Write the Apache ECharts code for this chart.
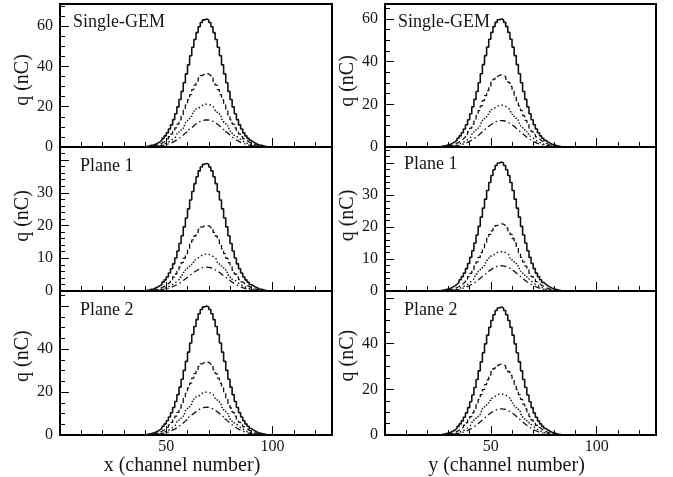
<!DOCTYPE html>
<html lang="en">
<head>
<meta charset="UTF-8">
<title>q per channel</title>
<script src="https://cdn.jsdelivr.net/npm/echarts@6/dist/echarts.min.js"></script>
<style>html,body{margin:0;padding:0;background:#fff;}</style>
</head>
<body>
<div id="main" style="width:673px;height:477px;"></div>
<script type="text/javascript">
// first channel of the stored bins (x strips on the left, y strips on the right)
var xStart = 40;
var yStart = 26;

// x strips, Single-GEM
var xGemSolid = [0.3,0.5,0.8,1.0,1.4,1.9,2.5,3.3,4.3,5.5,7.0,8.9,11.0,13.6,16.5,19.9,23.6,27.6,31.9,36.3,40.8,45.3,49.5,53.4,56.8,59.7,61.8,63.1,63.5,63.1,61.8,59.7,56.8,53.4,49.5,45.3,40.8,36.3,31.9,27.6,23.6,19.9,16.5,13.6,11.0,8.9,7.0,5.5,4.3,3.3,2.5,1.9,1.4,1.0,0.8,0.5,0.3];
var xGemDash = [0.2,0.3,0.4,0.6,0.8,1.1,1.5,1.9,2.5,3.2,4.1,5.1,6.4,7.8,9.5,11.4,13.5,15.8,18.3,20.9,23.5,26.0,28.5,30.7,32.7,34.3,35.5,36.2,36.5,36.2,35.5,34.3,32.7,30.7,28.5,26.0,23.5,20.9,18.3,15.8,13.5,11.4,9.5,7.8,6.4,5.1,4.1,3.2,2.5,1.9,1.5,1.1,0.8,0.6,0.4,0.3,0.2];
var xGemDot = [0.1,0.2,0.3,0.3,0.5,0.6,0.9,1.1,1.4,1.9,2.4,3.0,3.7,4.6,5.5,6.7,7.9,9.2,10.7,12.2,13.7,15.2,16.6,17.9,19.1,20.0,20.7,21.2,21.3,21.2,20.7,20.0,19.1,17.9,16.6,15.2,13.7,12.2,10.7,9.2,7.9,6.7,5.5,4.6,3.7,3.0,2.4,1.9,1.4,1.1,0.9,0.6,0.5,0.3,0.3,0.2,0.1];
var xGemDashDot = [0.1,0.1,0.2,0.2,0.3,0.4,0.5,0.7,0.9,1.2,1.5,1.9,2.3,2.9,3.5,4.2,5.0,5.9,6.8,7.7,8.7,9.6,10.5,11.4,12.1,12.7,13.1,13.4,13.5,13.4,13.1,12.7,12.1,11.4,10.5,9.6,8.7,7.7,6.8,5.9,5.0,4.2,3.5,2.9,2.3,1.9,1.5,1.2,0.9,0.7,0.5,0.4,0.3,0.2,0.2,0.1,0.1];

// y strips, Single-GEM
var yGemSolid = [0.3,0.5,0.7,1.0,1.3,1.8,2.4,3.1,4.1,5.2,6.7,8.4,10.4,12.8,15.6,18.8,22.3,26.0,30.1,34.3,38.6,42.8,46.8,50.5,53.7,56.4,58.4,59.6,60.0,59.6,58.4,56.4,53.7,50.5,46.8,42.8,38.6,34.3,30.1,26.0,22.3,18.8,15.6,12.8,10.4,8.4,6.7,5.2,4.1,3.1,2.4,1.8,1.3,1.0,0.7,0.5,0.3];
var yGemDash = [0.2,0.3,0.4,0.5,0.7,1.0,1.4,1.8,2.3,2.9,3.8,4.7,5.9,7.2,8.8,10.6,12.5,14.7,17.0,19.3,21.7,24.1,26.4,28.4,30.3,31.8,32.9,33.6,33.8,33.6,32.9,31.8,30.3,28.4,26.4,24.1,21.7,19.3,17.0,14.7,12.5,10.6,8.8,7.2,5.9,4.7,3.8,2.9,2.3,1.8,1.4,1.0,0.7,0.5,0.4,0.3,0.2];
var yGemDot = [0.1,0.2,0.2,0.3,0.4,0.6,0.8,1.0,1.3,1.7,2.2,2.7,3.4,4.2,5.1,6.1,7.3,8.5,9.8,11.2,12.6,14.0,15.3,16.5,17.5,18.4,19.1,19.5,19.6,19.5,19.1,18.4,17.5,16.5,15.3,14.0,12.6,11.2,9.8,8.5,7.3,6.1,5.1,4.2,3.4,2.7,2.2,1.7,1.3,1.0,0.8,0.6,0.4,0.3,0.2,0.2,0.1];
var yGemDashDot = [0.1,0.1,0.1,0.2,0.3,0.4,0.5,0.6,0.8,1.1,1.4,1.7,2.2,2.7,3.2,3.9,4.6,5.4,6.2,7.1,8.0,8.8,9.7,10.4,11.1,11.7,12.1,12.3,12.4,12.3,12.1,11.7,11.1,10.4,9.7,8.8,8.0,7.1,6.2,5.4,4.6,3.9,3.2,2.7,2.2,1.7,1.4,1.1,0.8,0.6,0.5,0.4,0.3,0.2,0.1,0.1,0.1];

// x strips, Plane 1
var xP1Solid = [0.2,0.3,0.5,0.6,0.9,1.2,1.6,2.0,2.7,3.4,4.3,5.5,6.8,8.3,10.1,12.2,14.5,16.9,19.6,22.3,25.1,27.8,30.4,32.8,34.9,36.7,37.9,38.7,39.0,38.7,37.9,36.7,34.9,32.8,30.4,27.8,25.1,22.3,19.6,16.9,14.5,12.2,10.1,8.3,6.8,5.5,4.3,3.4,2.7,2.0,1.6,1.2,0.9,0.6,0.5,0.3,0.2];
var xP1Dash = [0.1,0.2,0.2,0.3,0.4,0.6,0.8,1.0,1.4,1.7,2.2,2.8,3.5,4.3,5.2,6.3,7.4,8.7,10.0,11.4,12.9,14.3,15.6,16.8,17.9,18.8,19.5,19.9,20.0,19.9,19.5,18.8,17.9,16.8,15.6,14.3,12.9,11.4,10.0,8.7,7.4,6.3,5.2,4.3,3.5,2.8,2.2,1.7,1.4,1.0,0.8,0.6,0.4,0.3,0.2,0.2,0.1];
var xP1Dot = [0.1,0.1,0.1,0.2,0.2,0.3,0.5,0.6,0.8,1.0,1.3,1.6,2.0,2.4,2.9,3.5,4.2,4.9,5.7,6.5,7.3,8.1,8.8,9.5,10.1,10.6,11.0,11.2,11.3,11.2,11.0,10.6,10.1,9.5,8.8,8.1,7.3,6.5,5.7,4.9,4.2,3.5,2.9,2.4,2.0,1.6,1.3,1.0,0.8,0.6,0.5,0.3,0.2,0.2,0.1,0.1,0.1];
var xP1DashDot = [0.0,0.1,0.1,0.1,0.2,0.2,0.3,0.4,0.5,0.6,0.8,1.0,1.3,1.6,1.9,2.3,2.7,3.2,3.7,4.2,4.7,5.2,5.7,6.1,6.5,6.9,7.1,7.2,7.3,7.2,7.1,6.9,6.5,6.1,5.7,5.2,4.7,4.2,3.7,3.2,2.7,2.3,1.9,1.6,1.3,1.0,0.8,0.6,0.5,0.4,0.3,0.2,0.2,0.1,0.1,0.1,0.0];

// y strips, Plane 1
var yP1Solid = [0.2,0.3,0.5,0.6,0.9,1.2,1.6,2.1,2.7,3.5,4.5,5.6,7.0,8.6,10.5,12.6,15.0,17.5,20.2,23.1,25.9,28.7,31.4,33.9,36.1,37.9,39.2,40.0,40.3,40.0,39.2,37.9,36.1,33.9,31.4,28.7,25.9,23.1,20.2,17.5,15.0,12.6,10.5,8.6,7.0,5.6,4.5,3.5,2.7,2.1,1.6,1.2,0.9,0.6,0.5,0.3,0.2];
var yP1Dash = [0.1,0.2,0.3,0.3,0.5,0.6,0.8,1.1,1.4,1.8,2.3,2.9,3.7,4.5,5.5,6.6,7.8,9.1,10.5,12.0,13.5,15.0,16.4,17.7,18.8,19.7,20.4,20.9,21.0,20.9,20.4,19.7,18.8,17.7,16.4,15.0,13.5,12.0,10.5,9.1,7.8,6.6,5.5,4.5,3.7,2.9,2.3,1.8,1.4,1.1,0.8,0.6,0.5,0.3,0.3,0.2,0.1];
var yP1Dot = [0.1,0.1,0.1,0.2,0.3,0.4,0.5,0.6,0.8,1.1,1.4,1.7,2.1,2.6,3.2,3.8,4.6,5.3,6.2,7.0,7.9,8.8,9.6,10.3,11.0,11.6,12.0,12.2,12.3,12.2,12.0,11.6,11.0,10.3,9.6,8.8,7.9,7.0,6.2,5.3,4.6,3.8,3.2,2.6,2.1,1.7,1.4,1.1,0.8,0.6,0.5,0.4,0.3,0.2,0.1,0.1,0.1];
var yP1DashDot = [0.0,0.1,0.1,0.1,0.2,0.2,0.3,0.4,0.5,0.7,0.9,1.1,1.4,1.7,2.1,2.5,2.9,3.4,4.0,4.5,5.1,5.6,6.2,6.6,7.1,7.4,7.7,7.8,7.9,7.8,7.7,7.4,7.1,6.6,6.2,5.6,5.1,4.5,4.0,3.4,2.9,2.5,2.1,1.7,1.4,1.1,0.9,0.7,0.5,0.4,0.3,0.2,0.2,0.1,0.1,0.1,0.0];

// x strips, Plane 2
var xP2Solid = [0.3,0.5,0.7,1.0,1.3,1.8,2.4,3.1,4.1,5.2,6.7,8.4,10.4,12.8,15.6,18.8,22.3,26.0,30.1,34.3,38.6,42.8,46.8,50.5,53.7,56.4,58.4,59.6,60.0,59.6,58.4,56.4,53.7,50.5,46.8,42.8,38.6,34.3,30.1,26.0,22.3,18.8,15.6,12.8,10.4,8.4,6.7,5.2,4.1,3.1,2.4,1.8,1.3,1.0,0.7,0.5,0.3];
var xP2Dash = [0.2,0.3,0.4,0.5,0.7,1.0,1.4,1.8,2.3,3.0,3.8,4.8,5.9,7.3,8.8,10.6,12.6,14.8,17.1,19.4,21.9,24.2,26.5,28.6,30.4,32.0,33.1,33.8,34.0,33.8,33.1,32.0,30.4,28.6,26.5,24.2,21.9,19.4,17.1,14.8,12.6,10.6,8.8,7.3,5.9,4.8,3.8,3.0,2.3,1.8,1.4,1.0,0.7,0.5,0.4,0.3,0.2];
var xP2Dot = [0.1,0.2,0.2,0.3,0.4,0.6,0.8,1.0,1.4,1.7,2.2,2.8,3.5,4.3,5.2,6.3,7.4,8.7,10.0,11.4,12.9,14.3,15.6,16.8,17.9,18.8,19.5,19.9,20.0,19.9,19.5,18.8,17.9,16.8,15.6,14.3,12.9,11.4,10.0,8.7,7.4,6.3,5.2,4.3,3.5,2.8,2.2,1.7,1.4,1.0,0.8,0.6,0.4,0.3,0.2,0.2,0.1];
var xP2DashDot = [0.1,0.1,0.2,0.2,0.3,0.4,0.5,0.7,0.9,1.1,1.4,1.8,2.3,2.8,3.4,4.1,4.8,5.6,6.5,7.4,8.4,9.3,10.1,10.9,11.6,12.2,12.6,12.9,13.0,12.9,12.6,12.2,11.6,10.9,10.1,9.3,8.4,7.4,6.5,5.6,4.8,4.1,3.4,2.8,2.3,1.8,1.4,1.1,0.9,0.7,0.5,0.4,0.3,0.2,0.2,0.1,0.1];

// y strips, Plane 2
var yP2Solid = [0.3,0.4,0.7,0.9,1.2,1.7,2.2,2.9,3.8,4.9,6.2,7.8,9.7,12.0,14.6,17.5,20.8,24.3,28.1,32.0,36.0,39.9,43.7,47.1,50.1,52.6,54.5,55.6,56.0,55.6,54.5,52.6,50.1,47.1,43.7,39.9,36.0,32.0,28.1,24.3,20.8,17.5,14.6,12.0,9.7,7.8,6.2,4.9,3.8,2.9,2.2,1.7,1.2,0.9,0.7,0.4,0.3];
var yP2Dash = [0.2,0.2,0.4,0.5,0.7,0.9,1.2,1.6,2.1,2.7,3.4,4.3,5.4,6.6,8.1,9.7,11.5,13.5,15.6,17.7,19.9,22.1,24.2,26.1,27.7,29.1,30.2,30.8,31.0,30.8,30.2,29.1,27.7,26.1,24.2,22.1,19.9,17.7,15.6,13.5,11.5,9.7,8.1,6.6,5.4,4.3,3.4,2.7,2.1,1.6,1.2,0.9,0.7,0.5,0.4,0.2,0.2];
var yP2Dot = [0.1,0.1,0.2,0.3,0.4,0.5,0.7,0.9,1.2,1.6,2.0,2.5,3.1,3.9,4.7,5.6,6.7,7.8,9.0,10.3,11.6,12.8,14.0,15.1,16.1,16.9,17.5,17.9,18.0,17.9,17.5,16.9,16.1,15.1,14.0,12.8,11.6,10.3,9.0,7.8,6.7,5.6,4.7,3.9,3.1,2.5,2.0,1.6,1.2,0.9,0.7,0.5,0.4,0.3,0.2,0.1,0.1];
var yP2DashDot = [0.1,0.1,0.1,0.2,0.3,0.3,0.5,0.6,0.8,1.0,1.3,1.6,2.0,2.5,3.0,3.6,4.3,5.0,5.8,6.6,7.4,8.2,9.0,9.7,10.3,10.8,11.2,11.4,11.5,11.4,11.2,10.8,10.3,9.7,9.0,8.2,7.4,6.6,5.8,5.0,4.3,3.6,3.0,2.5,2.0,1.6,1.3,1.0,0.8,0.6,0.5,0.3,0.3,0.2,0.1,0.1,0.1];

// tick labels that are printed
var xTickLabels = [50, 100];
var yLabelsGem = [0, 20, 40, 60];
var yLabelsP1 = [0, 10, 20, 30];
var yLabelsP2 = [0, 20, 40];

var panelNames = ['Single-GEM', 'Single-GEM', 'Plane 1', 'Plane 1', 'Plane 2', 'Plane 2'];
var xTitles = ['x (channel number)', 'y (channel number)'];
var yTitle = 'q (nC)';

var SERIF = 'Liberation Serif, Times New Roman, serif';
var INK = '#161616';

// bins [i, i+1) drawn as a step line
function toSteps(start, vals) {
    var pts = [[start, 0]];
    for (var i = 0; i < vals.length; i++) {
        pts.push([start + i, vals[i]]);
    }
    pts.push([start + vals.length, 0]);
    return pts;
}

// ny: padding that nudges the rotated y title along its axis
var panels = [
    { left: 60,  top: 4,   w: 272, h: 143, start: xStart, ymax: 71, step: 20, minor: 4, labels: yLabelsGem, data: [xGemSolid, xGemDash, xGemDot, xGemDashDot], tx: 73,  ty: 23,  ny: [0, 9, 0, 0] },
    { left: 385, top: 4,   w: 271, h: 143, start: yStart, ymax: 67, step: 20, minor: 4, labels: yLabelsGem, data: [yGemSolid, yGemDash, yGemDot, yGemDashDot], tx: 398, ty: 23,  ny: [0, 11, 0, 0] },
    { left: 60,  top: 147, w: 272, h: 144, start: xStart, ymax: 44, step: 10, minor: 5, labels: yLabelsP1,  data: [xP1Solid, xP1Dash, xP1Dot, xP1DashDot], tx: 80,  ty: 167, ny: [0, 0, 0, 6] },
    { left: 385, top: 147, w: 271, h: 144, start: yStart, ymax: 45, step: 10, minor: 5, labels: yLabelsP1,  data: [yP1Solid, yP1Dash, yP1Dot, yP1DashDot], tx: 404, ty: 165, ny: [0, 0, 0, 7] },
    { left: 60,  top: 291, w: 272, h: 145, start: xStart, ymax: 67, step: 20, minor: 4, labels: yLabelsP2,  data: [xP2Solid, xP2Dash, xP2Dot, xP2DashDot], tx: 80,  ty: 311, ny: [0, 0, 0, 14] },
    { left: 385, top: 291, w: 271, h: 145, start: yStart, ymax: 63, step: 20, minor: 4, labels: yLabelsP2,  data: [yP2Solid, yP2Dash, yP2Dot, yP2DashDot], tx: 404, ty: 311, ny: [0, 0, 0, 15] }
];

var lineTypes = ['solid', [5, 3], [1.5, 2.5], [6, 3, 1.5, 3]];
var lineWidths = [1.6, 1.3, 1.4, 1.3];

var grids = [], xAxes = [], yAxes = [], series = [], texts = [];

panels.forEach(function (p, k) {
    var bottom = k >= 4;
    grids.push({
        left: p.left, top: p.top, width: p.w, height: p.h,
        show: true, borderColor: '#000', borderWidth: 2, containLabel: false
    });
    xAxes.push({
        gridIndex: k, type: 'value', min: 0, max: 128, interval: 50,
        axisLine: { show: true, onZero: false, lineStyle: { color: '#000', width: 2 } },
        axisTick: { inside: true, length: 9, lineStyle: { color: '#000', width: 1 } },
        minorTick: { show: true, splitNumber: 5, length: 5, lineStyle: { color: '#000', width: 1 } },
        splitLine: { show: false },
        axisLabel: {
            show: bottom, margin: 4, fontSize: 16, fontFamily: SERIF, color: INK,
            showMinLabel: false, showMaxLabel: false,
            formatter: function (v) { return xTickLabels.indexOf(v) >= 0 ? String(v) : ''; }
        },
        name: bottom ? xTitles[k % 2] : '',
        nameLocation: 'middle', nameGap: 16,
        nameTextStyle: { fontSize: 20, fontFamily: SERIF, color: INK, padding: [0, 28, 0, 0] }
    });
    yAxes.push({
        gridIndex: k, type: 'value', min: 0, max: p.ymax, interval: p.step,
        axisLine: { show: true, lineStyle: { color: '#000', width: 2 } },
        axisTick: { inside: true, length: 9, lineStyle: { color: '#000', width: 1 } },
        minorTick: { show: true, splitNumber: p.minor, length: 5, lineStyle: { color: '#000', width: 1 } },
        splitLine: { show: false },
        axisLabel: {
            margin: 7, fontSize: 16, fontFamily: SERIF, color: INK, showMaxLabel: false,
            formatter: (function (labs) {
                return function (v) { return labs.indexOf(v) >= 0 ? String(v) : ''; };
            })(p.labels)
        },
        name: yTitle, nameLocation: 'middle', nameGap: 22,
        nameTextStyle: { fontSize: 20, fontFamily: SERIF, color: INK, padding: p.ny }
    });
    p.data.forEach(function (vals, j) {
        series.push({
            type: 'line', xAxisIndex: k, yAxisIndex: k, step: 'end',
            symbol: 'none', silent: true,
            lineStyle: { color: '#111', width: lineWidths[j], type: lineTypes[j] },
            data: toSteps(p.start, vals)
        });
    });
    texts.push({
        type: 'text', left: p.tx, top: p.ty - 10,
        style: { text: panelNames[k], fontSize: 18, fontFamily: SERIF, fill: INK }
    });
});

var myChart = echarts.init(document.getElementById('main'));
myChart.setOption({
    animation: false,
    backgroundColor: '#fff',
    grid: grids,
    xAxis: xAxes,
    yAxis: yAxes,
    series: series,
    graphic: texts
});
</script>
</body>
</html>
